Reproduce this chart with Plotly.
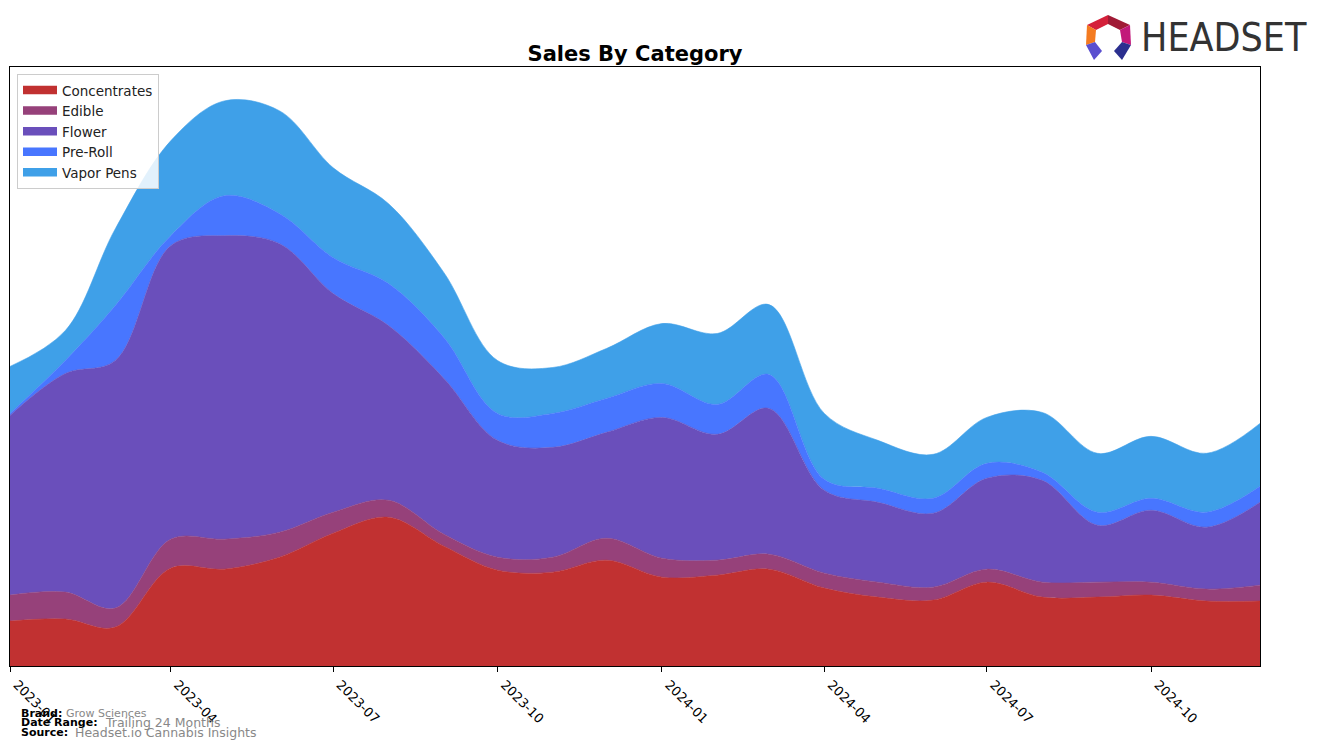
import pandas as pd
import plotly.graph_objects as go

# ---- data (monthly, arbitrary sales units) ----
months = pd.date_range("2023-01-01", periods=24, freq="MS")
categories = ["Concentrates", "Edible", "Flower", "Pre-Roll", "Vapor Pens"]
concentrates = [45, 47, 39, 98, 97, 109, 133, 149, 120, 96, 94, 106, 89, 91, 97, 78, 69, 66, 84, 69, 69, 71, 65, 65]
edible = [26, 27, 19, 29, 30, 25, 21, 17, 12, 13, 15, 22, 19, 15, 15, 15, 15, 13, 13, 15, 15, 13, 12, 16]
flower = [180, 219, 248, 294, 304, 289, 219, 175, 156, 117, 110, 106, 141, 126, 146, 83, 80, 74, 91, 102, 57, 72, 62, 83]
pre_roll = [2, 13, 55, 10, 40, 30, 36, 42, 41, 27, 34, 34, 34, 30, 34, 11, 14, 15, 15, 8, 13, 12, 15, 16]
vapor_pens = [47, 30, 77, 95, 95, 103, 90, 80, 65, 53, 46, 50, 60, 71, 70, 66, 48, 44, 46, 60, 59, 62, 59, 63]
tick_values = ["2023-01-01", "2023-04-01", "2023-07-01", "2023-10-01", "2024-01-01", "2024-04-01", "2024-07-01", "2024-10-01"]
tick_labels = ["2023-01", "2023-04", "2023-07", "2023-10", "2024-01", "2024-04", "2024-07", "2024-10"]

series = [concentrates, edible, flower, pre_roll, vapor_pens]
colors = ["#c13131", "#96417a", "#6a4fbb", "#4876ff", "#3fa0e8"]

W, H = 1324, 748
L, R, T, B = 10, 1260, 67, 666  # plot area in pixels


def px(x):
    return (x - L) / (R - L)


def py(y):
    return (B - y) / (B - T)


fig = go.Figure()
for name, vals, col in zip(categories, series, colors):
    fig.add_trace(go.Scatter(
        x=months, y=vals, name=name, mode="lines",
        stackgroup="one", line=dict(width=0.6, color=col, shape="spline", smoothing=1.0),
        fillcolor=col,
    ))

totals = [sum(v) for v in zip(*series)]
ymax = max(totals) * 1.06

fig.update_layout(
    width=W, height=H,
    margin=dict(l=L, r=W - R, t=T, b=H - B, autoexpand=False),
    plot_bgcolor="white", paper_bgcolor="white",
    font=dict(family="DejaVu Sans", color="#000000"),
    title=dict(text="<b>Sales By Category</b>", x=px(635), xref="paper", xanchor="center",
               y=1 - 54 / H, yanchor="middle", font=dict(size=21, color="#000000")),
    showlegend=True,
    legend=dict(x=px(17), y=py(74), xanchor="left", yanchor="top",
                bgcolor="rgba(255,255,255,0.85)", bordercolor="#cccccc", borderwidth=1,
                font=dict(size=13.5, color="#222222"), tracegroupgap=0, traceorder="normal",
                itemsizing="constant", itemwidth=34),
    xaxis=dict(range=[months[0], months[-1]], tickmode="array", tickvals=tick_values,
               ticktext=tick_labels, tickangle=45, ticks="outside", ticklen=5,
               tickcolor="#000000", tickfont=dict(size=13, color="#000000"),
               ticklabelshift=7,
               showline=True, linecolor="#000000", linewidth=1, mirror=True,
               showgrid=False, zeroline=False, automargin=False),
    yaxis=dict(range=[0, ymax], showticklabels=False, ticks="", showgrid=False,
               zeroline=False, showline=True, linecolor="#000000", linewidth=1, mirror=True,
               automargin=False),
)

# footer
footer = [
    (19, 713, "Brand:", 64, "Grow Sciences", 11),
    (19, 722, "Date Range:", 103, "Trailing 24 Months", 12.5),
    (19, 732, "Source:", 73, "Headset.io Cannabis Insights", 12.5),
]
for x0, y0, lab, x1, val, vs in footer:
    fig.add_annotation(x=px(x0), y=py(y0), xref="paper", yref="paper", text=f"<b>{lab}</b>",
                       showarrow=False, xanchor="left", yanchor="middle",
                       font=dict(size=11, color="#000000"))
    fig.add_annotation(x=px(x1), y=py(y0), xref="paper", yref="paper", text=val,
                       showarrow=False, xanchor="left", yanchor="middle",
                       font=dict(size=vs, color="#888888"))

# logo text
fig.add_annotation(x=px(1139), y=py(38), xref="paper", yref="paper", text="HEADSET",
                   showarrow=False, xanchor="left", yanchor="middle",
                   font=dict(size=39, color="#333333",
                             family="Liberation Sans Narrow, DejaVu Sans Condensed"))

# logo icon pieces
pieces = [
    ([(1087, 25), (1108, 15), (1108, 24), (1096, 30)], "#d4203a"),
    ([(1108, 15), (1130, 25), (1120, 30), (1108, 24)], "#a01a35"),
    ([(1087, 25), (1096, 30), (1095, 42), (1086, 45)], "#f47b20"),
    ([(1130, 25), (1131, 45), (1122, 42), (1120, 30)], "#c2187a"),
    ([(1086, 45), (1095, 42), (1102, 51), (1094, 60)], "#5a4fcf"),
    ([(1131, 45), (1122, 42), (1114, 51), (1122, 60)], "#2b2f8f"),
]
for pts, col in pieces:
    path = "M " + " L ".join(f"{px(x):.5f},{py(y):.5f}" for x, y in pts) + " Z"
    fig.add_shape(type="path", path=path, xref="paper", yref="paper",
                  fillcolor=col, line=dict(width=0))

fig.write_html("out.html", config={"displayModeBar": False},
               post_script="document.body.style.margin='0';document.body.style.overflow='hidden';")
